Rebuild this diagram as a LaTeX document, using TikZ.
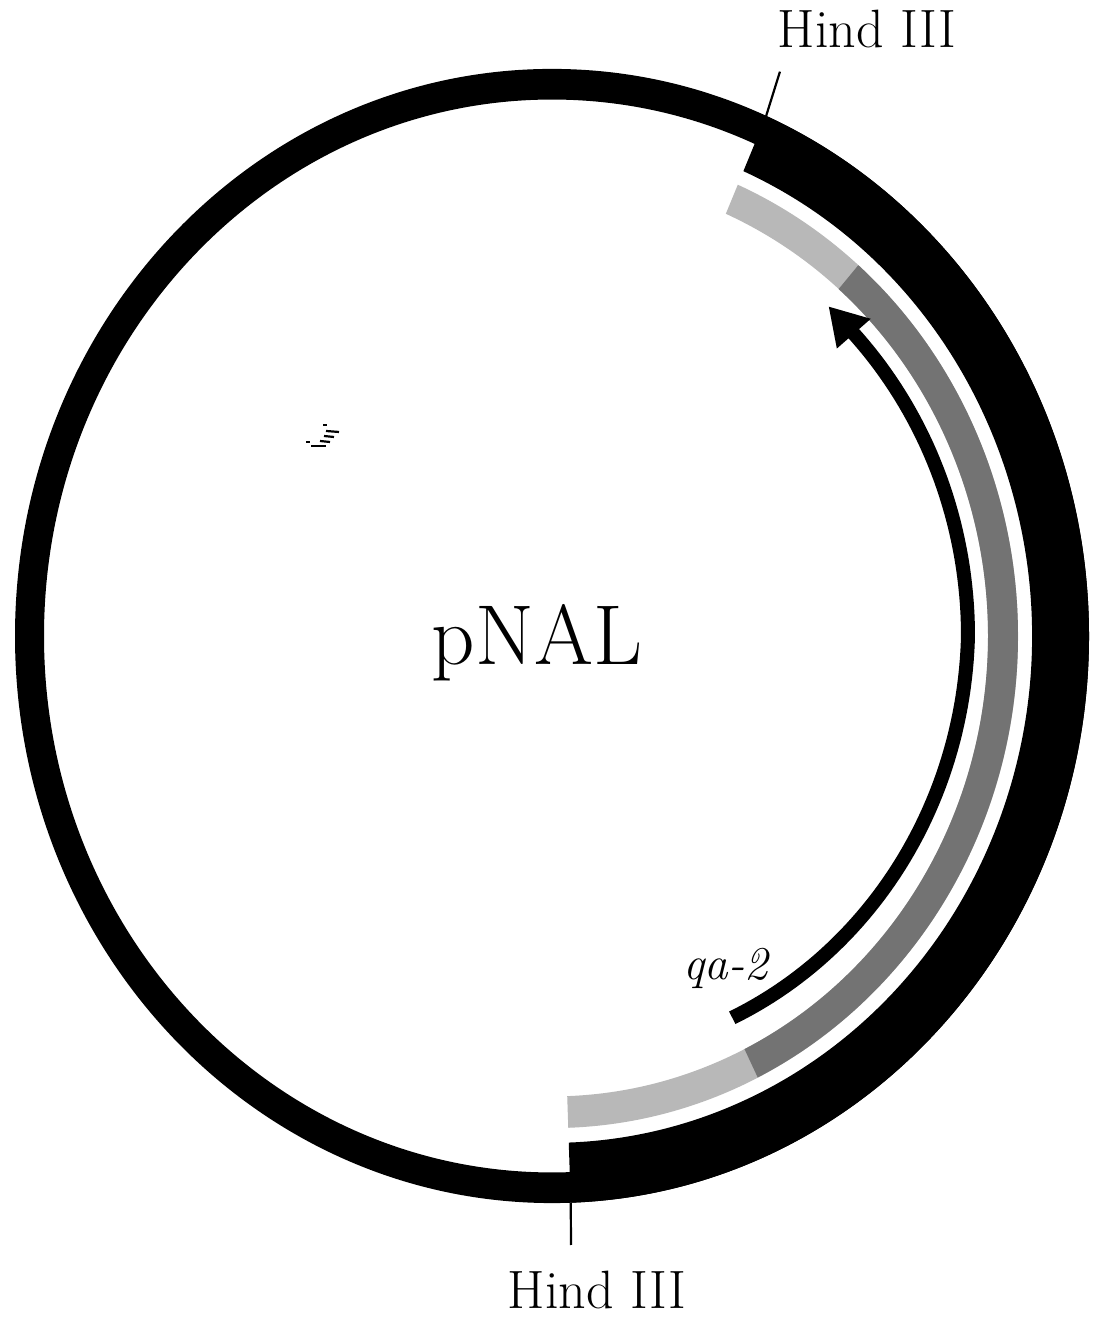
\documentclass[tikz,border=0pt]{standalone}
\begin{document}
\begin{tikzpicture}[x=1pt,y=1pt,
  lightband/.style={fill=black!28},
  darkband/.style={fill=black!55},
  tick/.style={line width=2.2pt},
  sitelabel/.style={font=\fontsize{54}{64}\selectfont, anchor=base, inner sep=0pt},
  namelabel/.style={font=\fontsize{85}{100}\selectfont, anchor=base, inner sep=0pt},
  genelabel/.style={font=\fontsize{47}{56}\selectfont\itshape, anchor=base, inner sep=0pt},
  speck/.style={line width=2.2pt}]
\useasboundingbox (0,0) rectangle (1093,1319);
\fill[white] (0,0) rectangle (1093,1319);
\begin{scope}[shift={(552,683)}, yscale=1.056]
  % thin backbone ring
  \fill[even odd rule] (0,0) circle[radius=537] (0,0) circle[radius=508];
  % thick insert
  \fill (-88:537) arc[start angle=-88,end angle=66.5,radius=537]
        -- (66.5:480) arc[start angle=66.5,end angle=-88,radius=480] -- cycle;
  % shaded band
  \fill[lightband] (-88:466) arc[start angle=-88,end angle=66.5,radius=466]
        -- (66.5:436) arc[start angle=66.5,end angle=-88,radius=436] -- cycle;
  \fill[darkband] (-63.8:466) arc[start angle=-63.8,end angle=48.9,radius=466]
        -- (48.9:436) arc[start angle=48.9,end angle=-63.8,radius=436] -- cycle;
  % qa-2 arrow
  \draw[line width=14pt] plot[domain=-63.5:44,samples=90]
     ({(416+min(0,\x)*12/63.5)*cos(\x)},{(416+min(0,\x)*12/63.5)*sin(\x)});
  \fill (48.4:417) -- (43.3:438) -- (43.7:394) -- cycle;
  % site coordinates
  \coordinate (topsite) at (66.5:537);
  \coordinate (toptickend) at (66.9:581);
  \coordinate (botsite) at (-88:537);
\end{scope}
\coordinate (botend) at (571,74);
\draw[tick] (topsite) -- (toptickend);
\draw[tick] (botsite) -- (botend);
% labels
\node[sitelabel] (hindtop) at (867,1271) {Hind III};
\node[sitelabel] (hindbot) at (597,10) {Hind III};
\node[namelabel] (name) at (537,654) {pNAL};
\node[genelabel] (gene) at (726,339) {qa-2};
% small speck
\draw[speck] (326,888) -- (339,887);
\draw[speck] (324,883) -- (334,882);
\draw[speck] (320,878) -- (330,877);
\draw[speck] (311,873) -- (326,873);
\draw[line width=1.2pt] (323,894) -- (327,894);
\draw[line width=1.2pt] (306,877) -- (310,877);
\end{tikzpicture}
\end{document}
